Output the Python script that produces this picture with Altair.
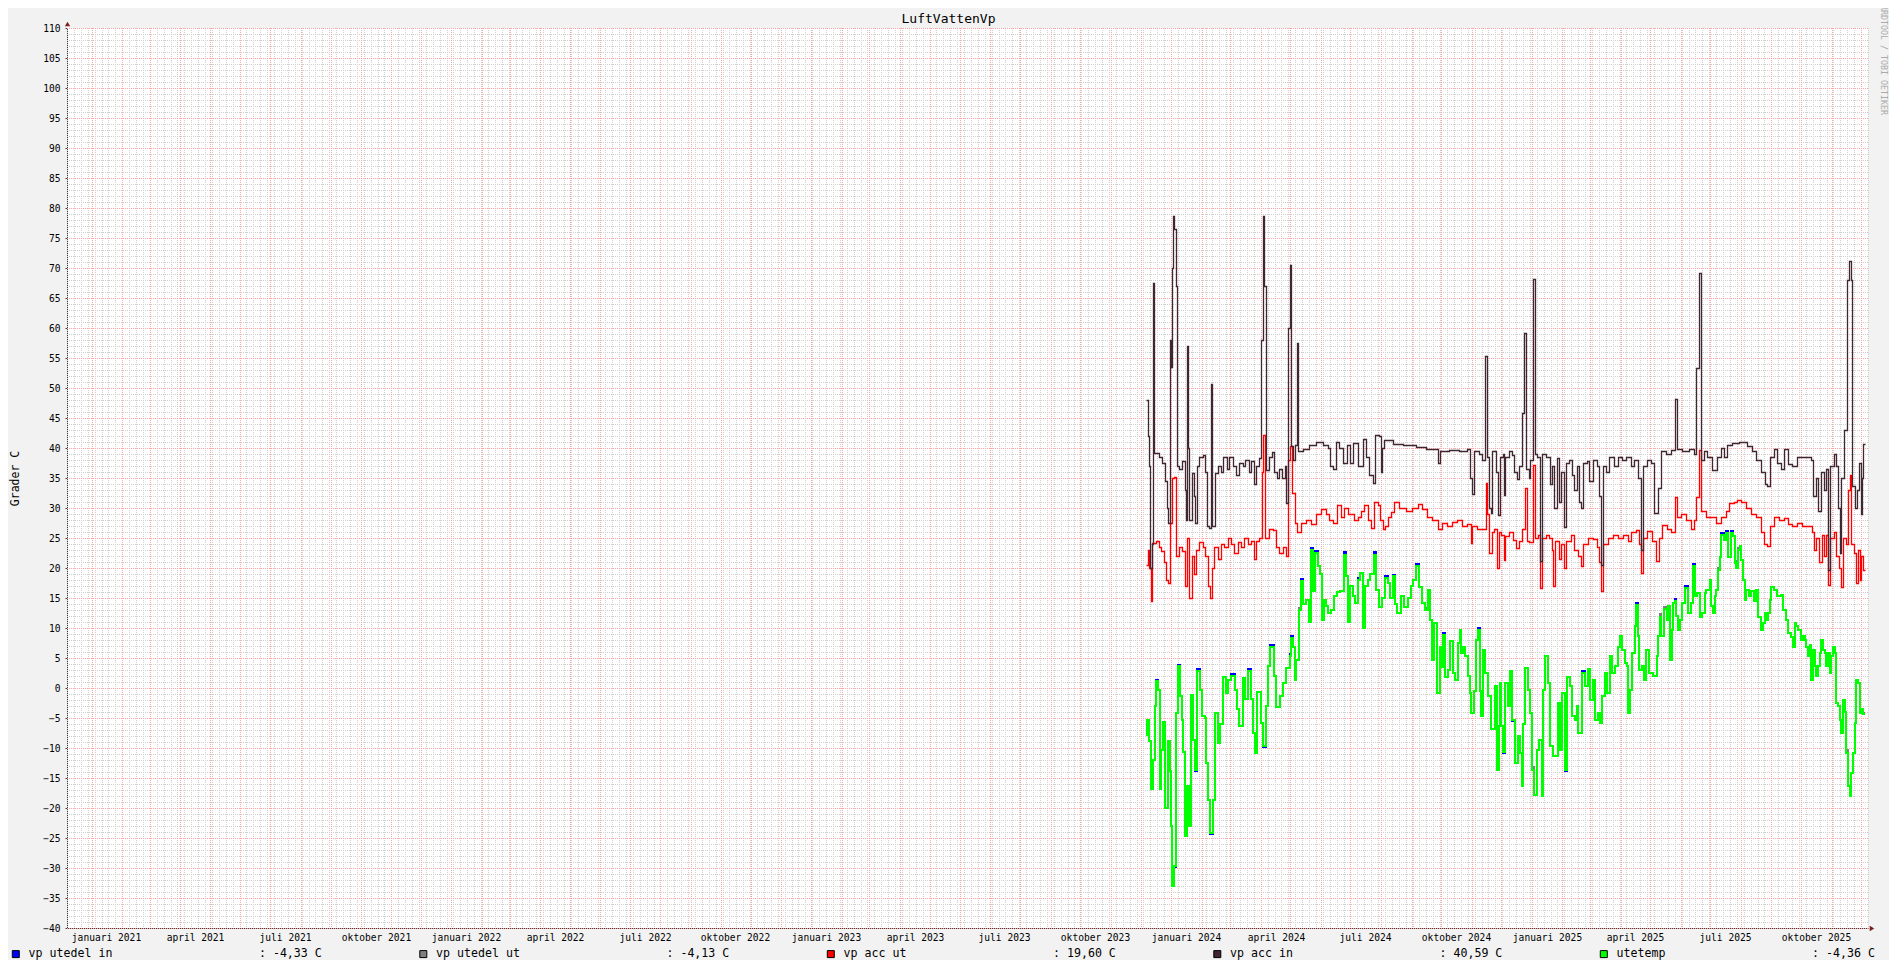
import altair as alt
import pandas as pd

MONO = "DejaVu Sans Mono"
NBSP = "\u00a0"

TITLE = "LuftVattenVp"
Y_TITLE = "Grader C"
WATERMARK = "RRDTOOL / TOBI OETIKER"

X_START = "2020-12-07"
X_END = "2025-12-08"
DATA_START = "2023-12-07"
Y_DOMAIN = [-40, 110]

MONTHS_SV = ["januari", "februari", "mars", "april", "maj", "juni", "juli",
             "augusti", "september", "oktober", "november", "december"]
LABEL_MONTHS = [1, 4, 7, 10]
LABEL_YEARS = [2021, 2022, 2023, 2024, 2025]

series_names = ["vp utedel in", "vp utedel ut", "vp acc ut", "vp acc in", "utetemp"]
series_colors = ["#0000ff", "#808080", "#ff0000", "#3f2630", "#00ff00"]
series_widths = [2, 2, 1.3, 1.3, 2]
legend_values = ["-4,33", "-4,13", "19,60", "40,59", "-4,36"]

# ---- vp acc in (days after DATA_START, value) ----
acc_in_days = [
    0, 1.4, 2.4, 3.7, 5.7, 6.8, 8.1, 13.2, 15.9, 18.6,
    20.6, 22, 23.6, 25, 26, 27, 28.4, 29.7, 30.7, 33.4,
    36.1, 38.9, 39.9, 41.2, 42.6, 43.6, 46, 48, 49.3, 51,
    53.7, 57, 59.8, 61.8, 63.9, 65.5, 66.9, 69.3, 72.3, 75.7,
    78, 81.4, 84.1, 87.5, 90.9, 94.3, 97.6, 100.3, 103.7, 106,
    108.8, 111, 114.5, 116.6, 117.9, 119.6, 121.3, 124, 127.4, 129.7,
    132.4, 134.8, 137.5, 140.2, 141.6, 143.9, 145.3, 147, 149, 150.3,
    152.4, 153.7, 158.4, 165.2, 172, 178.7, 183.8, 186.5, 188.9, 192.2,
    195.6, 199.7, 203, 206.4, 209.8, 214.2, 219.3, 222.6, 226, 229.4,
    231.8, 235.5, 237.5, 238.9, 241.2, 249.7, 259.8, 273.3, 283.4, 293.6,
    296, 298, 307, 317.2, 325.7, 328, 330, 332.4, 337.5, 340.9,
    343.6, 346, 347.6, 349.3, 351, 355, 356.8, 358.4, 361.4, 362.4,
    363.7, 368.1, 370.5, 373.2, 375.6, 378.3, 380.6, 383, 385, 387.7,
    389.4, 391.8, 393.8, 396.2, 398.9, 400.9, 405.3, 409.4, 411.4, 413.7,
    416.1, 418.8, 420.8, 423.2, 425.6, 428.9, 431.6, 434, 436.4, 439.1,
    441.1, 443.1, 446.5, 449.2, 452.6, 456.6, 458.7, 461, 462.7, 466.1,
    469.5, 474.6, 477.9, 482.3, 486.4, 491.4, 494.8, 498.2, 501.6, 503.9,
    508.3, 511.7, 515.1, 518.5, 521.9, 526.9, 532, 536, 538.1, 543.8,
    550.6, 555.6, 558, 560.7, 562.7, 565.8, 569.1, 574.2, 579.3, 582.7,
    586, 589.4, 594.5, 601.2, 609.7, 614.8, 618.1, 623.2, 627.3, 630,
    632.3, 636.7, 640.1, 643.5, 646.8, 651.2, 655.3, 660.4, 670.5, 673.9,
    676.2, 679, 681.6, 684, 687.4, 689, 691.4, 693.5, 697.5, 700,
    702, 703.3, 705, 707.7, 711, 712.7, 714.4, 716.1, 718.8, 721.2,
    722.9, 724.5, 725.6, 727.2, 729,
]
acc_in_vals = [
    48, 42, 37, 20, 24, 67.5, 39.2, 38.5, 37.5, 34.5,
    30, 27.5, 58, 53.5, 70, 78.6, 76.5, 67, 37, 36.5,
    37.8, 33, 28, 57, 40, 28, 35.8, 32, 27.5, 37,
    38.5, 38.8, 36, 27, 26.7, 50.7, 27, 35.8, 37, 36,
    38.5, 36.5, 38.5, 37, 35.5, 37.5, 37, 38, 36, 37.8,
    34, 37, 38.3, 58, 78.6, 67, 36.4, 38.5, 39.4, 36,
    35, 36.5, 35, 37, 30.8, 60, 70.5, 40.3, 38, 40.5,
    57.5, 39.5, 39.8, 40.5, 41, 40.5, 40, 37, 36.5, 41,
    40, 37.5, 40.5, 37.5, 40.8, 37, 41.5, 38.5, 35.5, 34.2,
    42.2, 42, 36, 40, 41.3, 40.7, 40.5, 40.2, 39.8, 39.8,
    37.5, 39.5, 39.7, 39.5, 39.8, 35, 32.3, 39.5, 39, 38,
    55.3, 38.5, 30, 29.2, 39.5, 36, 28.9, 38.5, 39, 32.2,
    38.5, 39.5, 38.8, 36, 34.8, 37, 45.8, 59.2, 36.5, 35,
    38, 68.2, 39, 38.5, 21.1, 39, 38.5, 34, 37, 30,
    38.3, 31, 36, 26.9, 37.5, 38, 35.5, 33, 37, 31,
    30, 37.5, 37.8, 34.5, 38, 37, 32, 20.5, 37, 36,
    38.5, 37, 38.5, 38, 38.5, 37, 38, 35, 23, 37,
    38, 37.5, 29.1, 33.3, 39.5, 39, 39.6, 48.2, 39.8, 39.5,
    39.8, 39, 53.3, 69.2, 38, 39.5, 38.5, 36.3, 38.5, 40,
    38.5, 40.5, 40.8, 41, 40.3, 39.5, 38, 36, 34, 33.6,
    38.5, 39.8, 37.5, 36.5, 39.8, 37.3, 37, 38.5, 38.5, 38,
    32, 35, 29.5, 36, 33, 36.5, 19.7, 37, 39, 37,
    30, 22.5, 35, 43, 68, 71.1, 68, 33.6, 30, 33,
    37.5, 29, 35, 40.59, 40.59,
]

# ---- vp acc ut ----
acc_ut_days = [
    0, 1.4, 3, 4.7, 6.1, 9.8, 12.5, 15.2, 18.2, 20,
    22, 24, 26, 27.7, 30, 32.8, 36.1, 39.2, 41.6, 43.6,
    46, 48, 50.3, 53.7, 57, 59.8, 62.2, 64.5, 66.6, 68.9,
    72.3, 75.7, 79, 82.4, 85.8, 89.2, 92.6, 96, 99.3, 102.7,
    106, 108.8, 111.1, 114.5, 117.2, 118.6, 120.6, 124.7, 128, 131.4,
    134.8, 138.2, 141.6, 143.6, 145.3, 147.6, 150.3, 153, 156.8, 161.8,
    166.9, 172, 177, 182.1, 185.5, 188.9, 192.9, 197.3, 200.7, 204,
    207.4, 210.8, 214.2, 217.6, 221, 224.3, 227.7, 231.1, 234.5, 236.8,
    239.5, 242.2, 244.6, 248, 251.4, 256.4, 263.2, 269.9, 275, 280,
    285.1, 290.2, 295.3, 300.3, 305.4, 310.5, 315.5, 320.6, 325.7, 329,
    330.7, 335.8, 340.9, 344.3, 346, 347.6, 350.3, 352.7, 356.1, 357.8,
    359.7, 362.4, 364.1, 368.1, 372.2, 374.9, 378.3, 381, 383.7, 385.7,
    388.4, 392.1, 394.1, 396.9, 399.2, 401.2, 405.3, 408.7, 411, 412.7,
    414.8, 418.1, 420.5, 423.2, 425.6, 430.6, 434, 437.4, 440.8, 443.1,
    447.5, 452.6, 456.6, 459.4, 461, 463.4, 467.8, 472.9, 477.9, 483,
    488.1, 491.4, 496.5, 499.9, 501.6, 503.9, 508.3, 512.7, 516.8, 520.2,
    523.5, 528.6, 532, 536, 538, 542.1, 547.2, 552.3, 555.6, 558,
    561, 562.7, 567.5, 572.5, 577.6, 582.7, 587.7, 591.1, 596.2, 599.5,
    602.9, 608, 613, 618.1, 623.2, 626.6, 630, 632.3, 636.7, 641.8,
    646.8, 651.2, 655.3, 660.4, 665.4, 670.5, 674.9, 677.3, 679.6, 682.3,
    685, 687.4, 689, 691.4, 693.5, 697.5, 700, 702.6, 704.3, 706.6,
    709.4, 711.7, 713.4, 715.1, 717.8, 719.5, 721.5, 723.5, 725.2, 726.9,
    729,
]
acc_ut_vals = [
    20.5, 23, 20, 14.5, 24.2, 24.5, 23.5, 22.8, 21, 18,
    17.5, 27.5, 35, 35.2, 22, 23.5, 22.8, 17, 25, 15,
    22, 19, 23, 24.3, 23.5, 22, 17, 15, 20, 23.5,
    21.5, 24, 23.5, 25, 24, 22.5, 24.3, 23.5, 25, 24,
    24.5, 21.5, 24.5, 25, 36, 42.2, 25, 26.5, 26.3, 23.5,
    22.5, 23.5, 22, 38, 40.3, 32.5, 27.5, 26, 27.5, 28,
    27.3, 29, 29.8, 29, 28, 27.5, 30.5, 28.5, 30, 29,
    29, 28, 28.5, 29.5, 30.5, 28, 26.7, 31, 30.5, 28,
    26.5, 27, 28.5, 29.3, 31, 30, 29.5, 30, 30.7, 29.8,
    28.5, 28, 26.5, 27.5, 27, 27.7, 28, 27, 27.3, 24.2,
    27, 26.5, 26.5, 34.2, 29, 22.5, 26, 26.5, 20, 26,
    25.5, 21.4, 25.3, 26, 24.7, 23.3, 24.5, 26.5, 33.3, 24.5,
    24.3, 37.2, 25, 25.5, 16.7, 25, 25.5, 25, 23, 17,
    24.5, 21.5, 24, 20, 24.5, 25.5, 23, 22, 20.3, 24,
    25, 24.8, 23.5, 21, 16.1, 24, 25, 25.5, 25, 25.5,
    24.5, 26, 26.3, 24, 19.1, 25, 26.2, 24.5, 21.1, 25,
    27.2, 26.5, 26, 31.9, 28.5, 29, 28, 26.5, 28, 31.9,
    39.7, 29.5, 28.5, 28.5, 27.5, 28.5, 29.5, 30.8, 31, 31.4,
    31, 30, 29, 28.5, 26, 24, 23.6, 27, 28.5, 28,
    28.3, 27.3, 27, 27.5, 27, 27, 26, 23, 25, 21,
    25.5, 22, 25.5, 17.2, 25, 26, 22, 20, 16.9, 25,
    24, 33, 35.5, 24, 22.5, 17.5, 23, 18, 22, 19.6,
    19.6,
]

# ---- outdoor series (shared days) ----
ute_days = [
    0, 1, 2.4, 4.7, 6.4, 8.4, 10.1, 11.8, 13.5, 15.2,
    16.9, 18.6, 22, 23.6, 25, 26.4, 28, 30.4, 32.1, 34.5,
    35.8, 37.5, 39.5, 41.2, 42.9, 45.6, 47.3, 49, 51, 54.1,
    56.4, 59.1, 60.8, 62.5, 64.5, 67.2, 69.3, 72.6, 74.7, 77.7,
    80.4, 82.8, 86.1, 89.5, 91.6, 94.3, 98, 100.3, 103, 106.4,
    108.1, 109.8, 111.8, 116.6, 118.6, 120.9, 123.3, 125.3, 129.7, 131.8,
    135.5, 138.9, 141.9, 145.3, 147, 148.6, 150.3, 152, 154.7, 157.1,
    159.1, 161.8, 165.2, 167.2, 168.9, 171.3, 173.6, 176, 178, 179.7,
    182.1, 184.5, 187.2, 189.9, 192.9, 196.3, 200, 202, 204.7, 206.4,
    209.1, 211.5, 214.2, 216.9, 219.3, 221.3, 224.3, 227, 230.7, 233.4,
    236.1, 238.9, 241.9, 244.6, 247, 249.7, 252.4, 254.7, 258.1, 261.5,
    264.9, 268.2, 270.6, 273.3, 276.7, 279.4, 282.8, 285.8, 287.5, 289.5,
    292.2, 294.3, 297.6, 299.3, 301, 303, 306.1, 308.1, 311.1, 313.2,
    316.2, 317.9, 319.6, 321.6, 323.3, 326.4, 328.4, 329.7, 332.1, 334.8,
    336.5, 338.2, 339.9, 341.9, 343.6, 346.6, 350, 353.4, 355.4, 357.5,
    358.8, 360, 361.5, 364, 367.1, 368.8, 370.8, 373.9, 376.6, 378.9,
    380.6, 382.3, 384.4, 386.7, 389.1, 390.8, 393.1, 395.8, 398.5, 400.9,
    402.6, 404.3, 407.7, 409.4, 412.7, 417.1, 419.5, 421.2, 424.6, 426.2,
    429.6, 431.6, 434.7, 436.4, 438.1, 441.8, 444.8, 448.2, 449.9, 453.3,
    455, 458.3, 460, 461.7, 465.1, 466.8, 470.2, 471.9, 475.2, 478.6,
    480.3, 482, 485.4, 487.1, 488.7, 490.4, 492.1, 495.2, 496.5, 498.2,
    500.2, 502.3, 505, 507.3, 510, 513.4, 517.5, 519.1, 520.8, 522.5,
    525.2, 527.6, 529.3, 531, 532.7, 534.4, 536, 537.7, 539.4, 541.1,
    543.8, 546.2, 548.9, 552.3, 554.6, 556.3, 559, 561.4, 563.4, 566.4,
    568.1, 571.5, 573.2, 574.9, 576.6, 578.3, 580, 581.6, 583.3, 586,
    588.4, 590.1, 592.8, 595.2, 596.9, 598.5, 600.2, 601.9, 603.6, 605.3,
    607, 608.7, 611.4, 613.7, 616.4, 618.8, 620.5, 623.2, 625.6, 627.3,
    629, 630.6, 632.3, 634, 636.7, 640.1, 643.5, 645.8, 648.5, 650.9,
    653.6, 656, 657.7, 659.4, 661, 664.4, 666.1, 667.8, 669.5, 671.2,
    672.9, 674.5, 676.2, 677.9, 679.6, 681.3, 683, 684.7, 686.4, 688,
    689.7, 691.4, 693.1, 694.8, 696.5, 698.2, 699.9, 701.6, 703.3, 705,
    706.6, 708.3, 710, 711.7, 713.4, 715.1, 716.8, 718.5, 720.2, 721.9,
    723.5, 725.2, 726.9, 729,
]
utetemp_vals = [
    -7.8, -5.3, -8.9, -16.9, -12, -3, 1.1, -0.3, -16.9, -10.3,
    -5.6, -20, -8.9, -13.9, -23, -33, -29.7, -4.2, 3.6, -1.4,
    -5.3, -10.6, -24.7, -16.4, -23, -1.1, -8.6, -13.6, 2.8, -0.3,
    -4.7, -5, -12.5, -18.6, -24.2, -18.6, -4.2, -9.2, -6, 1.9,
    -0.8, 1.4, 2, -0.3, -3.5, -6.4, 1.7, -1.9, 2.8, -1.9,
    -7.5, -10.8, -0.6, -5.8, -9.7, -3, 3.6, 6.9, 2, -3.1,
    -1.4, 0.8, 3.3, 5.3, 8.3, 6.9, 1.4, 4.7, 13, 17.8,
    14, 14.7, 11, 23, 16.1, 22.5, 20.3, 19, 11.4, 14.7,
    13.6, 12.5, 13, 15.3, 16, 16.1, 22.2, 18.6, 11, 17,
    15.3, 14.2, 18, 19.2, 10, 17, 18, 19, 22.2, 16.4,
    13.5, 15, 18.3, 17.5, 15, 18.6, 14, 12.5, 15.3, 13.5,
    15, 17, 18, 20.3, 16.9, 14.2, 13, 16.4, 11.4, 4.7,
    10.8, -0.8, 6.9, 3.5, 8.9, 1.9, 3, 7.8, 2.5, 1.4,
    7.5, 9.7, 5.8, 6.9, 5.3, 2, -0.8, -4.2, -0.5, 8,
    9.7, -0.5, -4.7, 6.4, 2.5, -1.4, -6.9, 0.3, -13.6, -6.4,
    0.8, -6.4, -10.6, 0.8, -3, 2.8, -5.3, -12.5, -8, -10.8,
    -16.4, -6, 3.3, -0.3, -4.2, -13.6, -17.8, -10.3, -8.6, -18,
    -0.3, 5.3, 0.8, -9.7, -11.4, -2.5, -10.3, -0.8, -13.6, 1.9,
    0.3, -4.7, -5.3, -3, -7.5, 2.5, 0.3, 3.1, -2, 1.4,
    -5.3, -4.2, -5.8, -1.4, 2.5, -0.8, 5.3, 2.5, 3.6, 6.9,
    8.6, 6.4, 4.2, 3.6, -4.2, -0.3, 5.8, 10.3, 13.9, 8.6,
    3, 3.6, 1.4, 6.4, 2.5, 2, 5.3, 8.6, 11.9, 8.6,
    13.1, 11.4, 13.6, 4.7, 9.7, 14.2, 14.5, 12, 9.7, 11.4,
    14.2, 16.7, 12.5, 14.2, 20.3, 15.3, 15.8, 11.9, 12.5, 15.8,
    16.4, 18, 13.6, 12.5, 15.3, 16.4, 19.7, 21.9, 25.5, 24.7,
    25.8, 21.9, 25.8, 25.3, 20.8, 20, 23, 23.6, 21.4, 18,
    14.7, 16.4, 15.3, 16.1, 14.5, 16.4, 11.9, 9.7, 10.8, 12.5,
    11.4, 12.5, 14.7, 16.9, 16.4, 15.3, 15.5, 13, 11.4, 9.2,
    8.5, 6.9, 10.8, 10.3, 9.7, 8, 8.6, 8, 6.9, 5.3,
    7.2, 1.4, 6.4, 3.6, 2, 3.6, 5.8, 8, 6.4, 5.8,
    3.6, 5.8, 2.5, 5.3, 6.9, 5.8, -2.5, -3, -5.3, -7.5,
    -2, -4, -10.8, -16.4, -18, -14.2, -10.8, -5.8, 1.4, 0.8,
    -4.2, -3.5, -4.36, -4.36,
]
utedel_in_vals = [
    -7.8, -5.3, -8.9, -16.9, -12, -3, 1.3, -0.3, -16.9, -10.3,
    -5.6, -20, -8.9, -13.9, -23, -29.8, -29.8, -4.2, 3.9, -1.4,
    -5.3, -10.6, -24.7, -16.4, -23, -1.1, -8.6, -13.9, 3.1, -0.3,
    -4.7, -5, -12.5, -18.6, -24.4, -18.6, -4.2, -9.2, -6, 1.9,
    -0.8, 1.4, 2.3, -0.3, -3.5, -6.4, 1.7, -1.9, 3.1, -1.9,
    -7.5, -10.8, -0.6, -5.8, -9.9, -3, 3.6, 7.2, 2, -3.1,
    -1.4, 0.8, 3.3, 5.6, 8.6, 6.9, 1.4, 4.7, 13, 18.2,
    14, 14.7, 11, 23.4, 16.1, 22.9, 20.3, 19, 11.4, 14.7,
    13.6, 12.5, 13, 15.3, 16, 16.1, 22.6, 18.6, 11, 17,
    15.3, 14.2, 18.3, 19.2, 10, 17, 18, 19, 22.6, 16.4,
    13.5, 15, 18.6, 17.5, 15, 18.9, 14, 12.5, 15.3, 13.5,
    15, 17, 18, 20.7, 16.9, 14.2, 13, 16.4, 11.4, 4.7,
    10.8, -0.8, 6.9, 3.5, 9.1, 1.9, 3, 7.8, 2.5, 1.4,
    7.5, 9.7, 5.8, 6.9, 5.3, 2, -0.8, -4.2, -0.5, 8,
    10, -0.5, -4.7, 6.4, 2.5, -1.4, -6.9, 0.3, -13.6, -6.4,
    0.8, -6.4, -10.8, 0.8, -3, 2.8, -5.5, -12.5, -8, -10.8,
    -16.4, -6, 3.3, -0.3, -4.2, -13.6, -17.8, -10.3, -8.6, -18,
    -0.3, 5.3, 0.8, -9.7, -11.4, -2.5, -10.3, -0.8, -13.8, 1.9,
    0.3, -4.7, -5.3, -3, -7.5, 2.8, 0.3, 3.1, -2, 1.4,
    -5.3, -4.2, -5.8, -1.4, 2.5, -0.8, 5.3, 2.5, 3.6, 6.9,
    8.6, 6.4, 4.2, 3.6, -4.2, -0.3, 5.8, 10.3, 14.2, 8.6,
    3, 3.6, 1.4, 6.4, 2.5, 2, 5.3, 8.6, 11.9, 8.6,
    13.1, 11.4, 13.6, 4.7, 9.7, 14.2, 14.8, 12, 9.7, 11.4,
    14.2, 17, 12.5, 14.2, 20.7, 15.3, 15.8, 11.9, 12.5, 15.8,
    16.4, 18, 13.6, 12.5, 15.3, 16.4, 19.7, 21.9, 25.8, 24.7,
    26.1, 21.9, 26.1, 25.3, 20.8, 20, 23, 23.6, 21.4, 18,
    14.7, 16.4, 15.3, 16.1, 14.5, 16.4, 11.9, 9.7, 10.8, 12.5,
    11.4, 12.5, 14.7, 16.9, 16.4, 15.3, 15.5, 13, 11.4, 9.2,
    8.5, 6.9, 10.8, 10.3, 9.7, 8, 8.6, 8, 6.9, 5.3,
    7.2, 1.4, 6.4, 3.6, 2, 3.6, 5.8, 8, 6.4, 5.8,
    3.6, 5.8, 2.5, 5.3, 6.9, 5.8, -2.5, -3, -5.3, -7.5,
    -2, -4, -10.8, -16.4, -18, -14.2, -10.8, -5.8, 1.4, 0.8,
    -4.2, -3.5, -4.33, -4.33,
]
utedel_ut_vals = [
    -7.8, -5.3, -8.9, -16.9, -12, -3, 1.1, -0.3, -16.9, -10.3,
    -5.6, -20, -8.9, -13.9, -23, -33, -29.7, -4.2, 3.6, -1.4,
    -5.3, -10.6, -24.7, -16.4, -23, -1.1, -8.6, -13.6, 2.8, -0.3,
    -4.7, -5, -12.5, -18.6, -24.2, -18.6, -4.2, -9.2, -6, 1.9,
    -0.8, 1.4, 2, -0.3, -3.5, -6.4, 1.7, -1.9, 2.8, -1.9,
    -7.5, -10.8, -0.6, -5.8, -9.7, -3, 3.6, 6.9, 2, -3.1,
    -1.4, 0.8, 3.3, 5.3, 8.3, 6.9, 1.4, 4.7, 13.4, 17.8,
    14, 14.7, 11, 23, 16.1, 22.5, 20.3, 19, 11.8, 14.7,
    13.6, 12.5, 13, 15.3, 16, 16.1, 22.2, 18.6, 11.4, 17,
    15.3, 14.2, 18, 19.2, 10.4, 17, 18, 19, 22.2, 16.4,
    13.5, 15, 18.3, 17.5, 15, 18.6, 14, 12.5, 15.3, 13.5,
    15, 17, 18, 20.3, 16.9, 14.2, 13.4, 16.4, 11.4, 4.7,
    10.8, -0.8, 6.9, 3.5, 8.9, 1.9, 3, 7.8, 2.5, 1.4,
    7.5, 9.7, 5.8, 6.9, 5.3, 2, -0.8, -4.2, -0.5, 8,
    9.7, -0.5, -4.7, 6.4, 2.5, -1.4, -6.9, 0.3, -13.6, -6.4,
    0.8, -6.4, -10.6, 0.8, -3, 2.8, -5.3, -12.5, -8, -10.8,
    -16, -6, 3.3, -0.3, -4.2, -13.2, -17.8, -10.3, -8.6, -18,
    -0.3, 5.3, 0.8, -9.7, -11.4, -2.5, -10.3, -0.8, -13.6, 1.9,
    0.3, -4.7, -5.3, -3, -7.5, 2.5, 0.3, 3.1, -2, 1.4,
    -5.3, -4.2, -5.8, -1.4, 2.5, -0.8, 5.3, 2.5, 3.6, 6.9,
    8.6, 6.4, 4.2, 3.6, -4.2, -0.3, 5.8, 10.3, 13.9, 8.6,
    3, 3.6, 1.4, 6.4, 2.5, 2, 5.3, 8.6, 12.3, 8.6,
    13.5, 11.4, 13.6, 4.7, 9.7, 14.2, 14.5, 12, 9.7, 11.4,
    14.2, 16.7, 12.5, 14.2, 20.3, 15.3, 15.8, 11.9, 12.5, 15.8,
    16.4, 18, 13.6, 12.5, 15.3, 16.4, 20, 21.9, 25.5, 24.7,
    25.8, 21.9, 25.8, 25.3, 21.2, 20, 23.3, 23.6, 21.4, 18,
    14.7, 16.4, 15.3, 16.1, 14.5, 16.4, 11.9, 9.7, 10.8, 12.5,
    11.4, 12.5, 14.7, 16.9, 16.4, 15.3, 15.5, 13, 11.4, 9.2,
    8.5, 6.9, 10.8, 10.3, 9.7, 8, 8.6, 8, 6.9, 5.3,
    7.2, 1.4, 6.4, 3.6, 2, 3.6, 5.8, 8, 6.4, 5.8,
    3.6, 5.8, 2.5, 5.3, 6.9, 5.8, -2.5, -3, -5.3, -7.5,
    -2, -4, -10.4, -16.4, -18, -14.2, -10.8, -5.8, 1.4, 0.8,
    -4.2, -3.5, -4.13, -4.13,
]

DAY_MS = 86_400_000


def ms(ts):
    t = pd.Timestamp(ts)
    if t.tzinfo is None:
        t = t.tz_localize("UTC")
    return int(t.value // 1_000_000)


base_ms = ms(DATA_START)


def frame(days, vals, name):
    return pd.DataFrame({"t": [base_ms + int(round(d * DAY_MS)) for d in days],
                         "v": vals, "s": name})


# grid / tick positions
week_df = pd.DataFrame({"t": [ms(t) for t in pd.date_range(X_START, X_END, freq="W-MON")]})
month_df = pd.DataFrame({"t": [ms(t) for t in pd.date_range("2021-01-01", X_END, freq="MS")]})
h_major = list(range(Y_DOMAIN[0], Y_DOMAIN[1] + 1, 5))
h_minor = [v for v in range(Y_DOMAIN[0], Y_DOMAIN[1] + 1) if v % 5 != 0]
hmajor_df = pd.DataFrame({"v": h_major})
hminor_df = pd.DataFrame({"v": h_minor})
label_ms = [ms(f"{y}-{m:02d}-16") for y in LABEL_YEARS for m in LABEL_MONTHS]

month_arr = "[" + ",".join(f"'{m}'" for m in MONTHS_SV) + "]"
month_expr = month_arr + "[utcmonth(datum.value)] + ' ' + utcyear(datum.value)"

x_scale = alt.Scale(type="utc", domain=[ms(X_START), ms(X_END)], nice=False, round=True)
y_scale = alt.Scale(domain=Y_DOMAIN, nice=False, zero=False, round=True)

x_axis = alt.Axis(values=label_ms, labelExpr=month_expr, grid=False, ticks=False,
                  domainColor="#404040", domainWidth=1, labelFont=MONO, labelFontSize=9.6,
                  labelColor="#000000", labelBaseline="middle", labelPadding=9,
                  labelOverlap=False, labelFlush=False, title=None)
y_axis = alt.Axis(values=h_major, grid=False, tickSize=2, tickColor="#404040",
                  domainColor="#404040", domainWidth=1, labelFont=MONO, labelFontSize=9.6,
                  labelColor="#000000", labelPadding=5, title=Y_TITLE, titleFont=MONO,
                  titleFontSize=11.5, titleFontWeight="normal", titleColor="#000000",
                  titleAngle=270, titleX=-52, titleY=450, titleAlign="center",
                  titleBaseline="middle")

x_enc = alt.X("t:T", scale=x_scale, axis=x_axis)
y_enc = alt.Y("v:Q", scale=y_scale, axis=y_axis)
color_scale = alt.Scale(domain=series_names, range=series_colors)

GRID_MINOR = "#d0d0d0"
GRID_MAJOR = "#ffa5a5"

v_minor = alt.Chart(week_df).mark_rule(color=GRID_MINOR, strokeDash=[1, 1], strokeWidth=1,
                                       xOffset=0.5).encode(x=x_enc)
h_minor_l = alt.Chart(hminor_df).mark_rule(color=GRID_MINOR, strokeDash=[1, 1], strokeWidth=1,
                                           yOffset=0.5).encode(y=y_enc)
v_major = alt.Chart(month_df).mark_rule(color=GRID_MAJOR, strokeDash=[1, 1], strokeWidth=1,
                                        xOffset=0.5).encode(x=x_enc)
h_major_l = alt.Chart(hmajor_df).mark_rule(color=GRID_MAJOR, strokeDash=[1, 1], strokeWidth=1,
                                           yOffset=0.5).encode(y=y_enc)


def line_layer(df, width):
    off = 0.5 if width < 2 else 0
    return alt.Chart(df).mark_line(interpolate="step-after", strokeWidth=width,
                                   xOffset=off, yOffset=off).encode(
        x=x_enc, y=y_enc,
        color=alt.Color("s:N", scale=color_scale, legend=None))


lines = [
    line_layer(frame(ute_days, utedel_in_vals, series_names[0]), series_widths[0]),
    line_layer(frame(ute_days, utedel_ut_vals, series_names[1]), series_widths[1]),
    line_layer(frame(acc_ut_days, acc_ut_vals, series_names[2]), series_widths[2]),
    line_layer(frame(acc_in_days, acc_in_vals, series_names[3]), series_widths[3]),
    line_layer(frame(ute_days, utetemp_vals, series_names[4]), series_widths[4]),
]

# legend: one entry per series, label text padded like the RRDtool legend
legend_labels = [f"{n}{NBSP * 21}: {v} C" for n, v in zip(series_names, legend_values)]
legend_df = pd.DataFrame({"lab": legend_labels, "t": [base_ms] * 5, "v": [0.0] * 5})
legend_layer = alt.Chart(legend_df).mark_square(opacity=0, size=1).encode(
    x=x_enc, y=y_enc,
    fill=alt.Fill("lab:N", scale=alt.Scale(domain=legend_labels, range=series_colors),
                  legend=alt.Legend(orient="none", legendX=-57, legendY=920,
                                    direction="horizontal", columns=5, title=None,
                                    symbolType="square", symbolSize=49,
                                    symbolStrokeColor="#000000", symbolStrokeWidth=1,
                                    symbolOpacity=1, labelFont=MONO, labelFontSize=11.6,
                                    labelColor="#000000", labelOffset=7, labelLimit=600,
                                    columnPadding=95.5, padding=0)))

title_layer = alt.Chart(pd.DataFrame({"text": [TITLE]})).mark_text(
    font=MONO, fontSize=13, color="#000000", align="center", baseline="middle"
).encode(text="text:N", x=alt.value(881.5), y=alt.value(-9))

mark_layer = alt.Chart(pd.DataFrame({"text": [WATERMARK]})).mark_text(
    font=MONO, fontSize=8.3, color="#aaaaaa", align="left", baseline="middle", angle=90
).encode(text="text:N", x=alt.value(1816), y=alt.value(-23))

arrow_df = pd.DataFrame({"a": [0]})
y_arrow = alt.Chart(arrow_df).mark_point(shape="triangle-up", filled=True, size=28,
                                          color="#7f1f1f", opacity=1).encode(
    x=alt.value(0.5), y=alt.value(-4))
x_arrow = alt.Chart(arrow_df).mark_point(shape="triangle-right", filled=True, size=28,
                                          color="#7f1f1f", opacity=1).encode(
    x=alt.value(1805), y=alt.value(900.5))

chart = alt.layer(
    v_minor, h_minor_l, v_major, h_major_l, *lines, legend_layer,
    title_layer, mark_layer, y_arrow, x_arrow
).properties(
    width=1801, height=900,
    autosize=alt.AutoSizeParams(type="none"),
    padding={"left": 59, "top": 20, "right": 21, "bottom": 32},
    background="#f2f2f2",
).configure_view(fill="#ffffff", strokeWidth=0)

chart.save("out.html", embed_options={"renderer": "svg", "actions": False})
